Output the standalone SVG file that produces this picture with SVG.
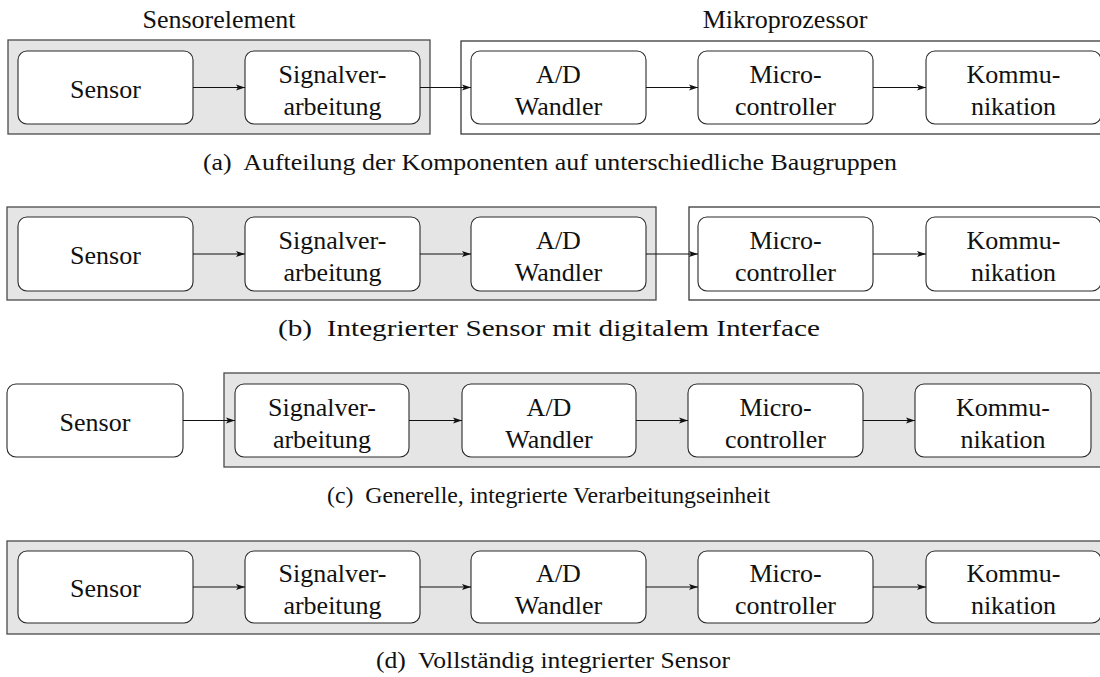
<svg xmlns="http://www.w3.org/2000/svg" width="1100" height="677" viewBox="0 0 1100 677" font-family="'Liberation Serif', 'Times New Roman', serif">
  <style>
    .grp-gray { fill: #e5e5e5; stroke: #4a4a4a; stroke-width: 1.3; }
    .grp-white { fill: #ffffff; stroke: #3a3a3a; stroke-width: 1.3; }
    .node rect { fill: #ffffff; stroke: #2a2a2a; stroke-width: 1.1; }
    text { font-family: "Liberation Serif", "Times New Roman", serif; fill: #111; }
    .lbl { font-size: 26px; text-anchor: middle; }
    .cap { font-size: 24px; text-anchor: middle; }
    .conn line { stroke: #111; stroke-width: 1.1; }
  </style>
  <defs>
    <marker id="arr" markerUnits="userSpaceOnUse" markerWidth="10" markerHeight="8" refX="9" refY="4" orient="auto">
      <path d="M0,1 L9,4 L0,7 L2,4 z" fill="#111"/>
    </marker>
  </defs>

  <rect width="1100" height="677" fill="#ffffff"/>

  <!-- (a) Aufteilung auf Baugruppen -->
  <g id="group-a-sensorelement">
    <rect class="grp-gray" x="8" y="40" width="422" height="94"/>
    <text class="lbl" x="219" y="28">Sensorelement</text>
  </g>
  <g id="group-a-mikroprozessor">
    <rect class="grp-white" x="461" y="41" width="660" height="93"/>
    <text class="lbl" x="785" y="28">Mikroprozessor</text>
  </g>
  <g id="a-sensor" class="node">
    <rect x="18" y="51" width="175" height="73" rx="9"/>
    <text class="lbl" x="105.5" y="98">Sensor</text>
  </g>
  <g id="a-signal" class="node">
    <rect x="245" y="51" width="175" height="73" rx="9"/>
    <text class="lbl" x="332.5" y="83">Signalver-</text>
    <text class="lbl" x="332.5" y="115">arbeitung</text>
  </g>
  <g id="a-ad" class="node">
    <rect x="471" y="51" width="175" height="73" rx="9"/>
    <text class="lbl" x="558.5" y="83">A/D</text>
    <text class="lbl" x="558.5" y="115">Wandler</text>
  </g>
  <g id="a-micro" class="node">
    <rect x="698" y="51" width="175" height="73" rx="9"/>
    <text class="lbl" x="785.5" y="83">Micro-</text>
    <text class="lbl" x="785.5" y="115">controller</text>
  </g>
  <g id="a-komm" class="node">
    <rect x="926" y="51" width="175" height="73" rx="9"/>
    <text class="lbl" x="1013.5" y="83">Kommu-</text>
    <text class="lbl" x="1013.5" y="115">nikation</text>
  </g>
  <text class="cap" x="550" y="170" textLength="694" lengthAdjust="spacingAndGlyphs">(a)&#160; Aufteilung der Komponenten auf unterschiedliche Baugruppen</text>

  <!-- (b) Integrierter Sensor -->
  <g id="group-b-sensor">
    <rect class="grp-gray" x="7" y="207" width="649" height="93"/>
  </g>
  <g id="group-b-controller">
    <rect class="grp-white" x="689" y="207" width="430" height="93"/>
  </g>
  <g id="b-sensor" class="node">
    <rect x="18" y="217" width="175" height="74" rx="9"/>
    <text class="lbl" x="105.5" y="264">Sensor</text>
  </g>
  <g id="b-signal" class="node">
    <rect x="245" y="217" width="175" height="74" rx="9"/>
    <text class="lbl" x="332.5" y="249">Signalver-</text>
    <text class="lbl" x="332.5" y="281">arbeitung</text>
  </g>
  <g id="b-ad" class="node">
    <rect x="471" y="217" width="175" height="74" rx="9"/>
    <text class="lbl" x="558.5" y="249">A/D</text>
    <text class="lbl" x="558.5" y="281">Wandler</text>
  </g>
  <g id="b-micro" class="node">
    <rect x="698" y="217" width="175" height="74" rx="9"/>
    <text class="lbl" x="785.5" y="249">Micro-</text>
    <text class="lbl" x="785.5" y="281">controller</text>
  </g>
  <g id="b-komm" class="node">
    <rect x="926" y="217" width="175" height="74" rx="9"/>
    <text class="lbl" x="1013.5" y="249">Kommu-</text>
    <text class="lbl" x="1013.5" y="281">nikation</text>
  </g>
  <text class="cap" x="549" y="336" textLength="542" lengthAdjust="spacingAndGlyphs">(b)&#160; Integrierter Sensor mit digitalem Interface</text>

  <!-- (c) Generelle Verarbeitungseinheit -->
  <g id="group-c-unit">
    <rect class="grp-gray" x="224" y="373" width="890" height="94"/>
  </g>
  <g id="c-sensor" class="node">
    <rect x="7" y="384" width="176" height="73" rx="9"/>
    <text class="lbl" x="95" y="431">Sensor</text>
  </g>
  <g id="c-signal" class="node">
    <rect x="235" y="384" width="174" height="73" rx="9"/>
    <text class="lbl" x="322" y="416">Signalver-</text>
    <text class="lbl" x="322" y="448">arbeitung</text>
  </g>
  <g id="c-ad" class="node">
    <rect x="462" y="384" width="174" height="73" rx="9"/>
    <text class="lbl" x="549" y="416">A/D</text>
    <text class="lbl" x="549" y="448">Wandler</text>
  </g>
  <g id="c-micro" class="node">
    <rect x="688" y="384" width="175" height="73" rx="9"/>
    <text class="lbl" x="775.5" y="416">Micro-</text>
    <text class="lbl" x="775.5" y="448">controller</text>
  </g>
  <g id="c-komm" class="node">
    <rect x="915" y="384" width="176" height="73" rx="9"/>
    <text class="lbl" x="1003" y="416">Kommu-</text>
    <text class="lbl" x="1003" y="448">nikation</text>
  </g>
  <text class="cap" x="548.5" y="503" textLength="443" lengthAdjust="spacingAndGlyphs">(c)&#160; Generelle, integrierte Verarbeitungseinheit</text>

  <!-- (d) Vollständig integriert -->
  <g id="group-d-all">
    <rect class="grp-gray" x="7" y="541" width="1112" height="93"/>
  </g>
  <g id="d-sensor" class="node">
    <rect x="18" y="551" width="175" height="72" rx="9"/>
    <text class="lbl" x="105.5" y="597">Sensor</text>
  </g>
  <g id="d-signal" class="node">
    <rect x="245" y="551" width="175" height="72" rx="9"/>
    <text class="lbl" x="332.5" y="582">Signalver-</text>
    <text class="lbl" x="332.5" y="614">arbeitung</text>
  </g>
  <g id="d-ad" class="node">
    <rect x="471" y="551" width="175" height="72" rx="9"/>
    <text class="lbl" x="558.5" y="582">A/D</text>
    <text class="lbl" x="558.5" y="614">Wandler</text>
  </g>
  <g id="d-micro" class="node">
    <rect x="698" y="551" width="175" height="72" rx="9"/>
    <text class="lbl" x="785.5" y="582">Micro-</text>
    <text class="lbl" x="785.5" y="614">controller</text>
  </g>
  <g id="d-komm" class="node">
    <rect x="926" y="551" width="175" height="72" rx="9"/>
    <text class="lbl" x="1013.5" y="582">Kommu-</text>
    <text class="lbl" x="1013.5" y="614">nikation</text>
  </g>
  <text class="cap" x="553" y="668" textLength="354" lengthAdjust="spacingAndGlyphs">(d)&#160; Vollständig integrierter Sensor</text>

  <!-- connectors -->
  <g id="connectors" class="conn">
    <line x1="193" y1="87.5" x2="245" y2="87.5" marker-end="url(#arr)"/>
    <line x1="420" y1="87.5" x2="471" y2="87.5" marker-end="url(#arr)"/>
    <line x1="646" y1="87.5" x2="698" y2="87.5" marker-end="url(#arr)"/>
    <line x1="873" y1="87.5" x2="926" y2="87.5" marker-end="url(#arr)"/>

    <line x1="193" y1="254" x2="245" y2="254" marker-end="url(#arr)"/>
    <line x1="420" y1="254" x2="471" y2="254" marker-end="url(#arr)"/>
    <line x1="646" y1="254" x2="698" y2="254" marker-end="url(#arr)"/>
    <line x1="873" y1="254" x2="926" y2="254" marker-end="url(#arr)"/>

    <line x1="183" y1="420.5" x2="235" y2="420.5" marker-end="url(#arr)"/>
    <line x1="409" y1="420.5" x2="462" y2="420.5" marker-end="url(#arr)"/>
    <line x1="636" y1="420.5" x2="688" y2="420.5" marker-end="url(#arr)"/>
    <line x1="863" y1="420.5" x2="915" y2="420.5" marker-end="url(#arr)"/>

    <line x1="193" y1="587" x2="245" y2="587" marker-end="url(#arr)"/>
    <line x1="420" y1="587" x2="471" y2="587" marker-end="url(#arr)"/>
    <line x1="646" y1="587" x2="698" y2="587" marker-end="url(#arr)"/>
    <line x1="873" y1="587" x2="926" y2="587" marker-end="url(#arr)"/>
  </g>
</svg>
